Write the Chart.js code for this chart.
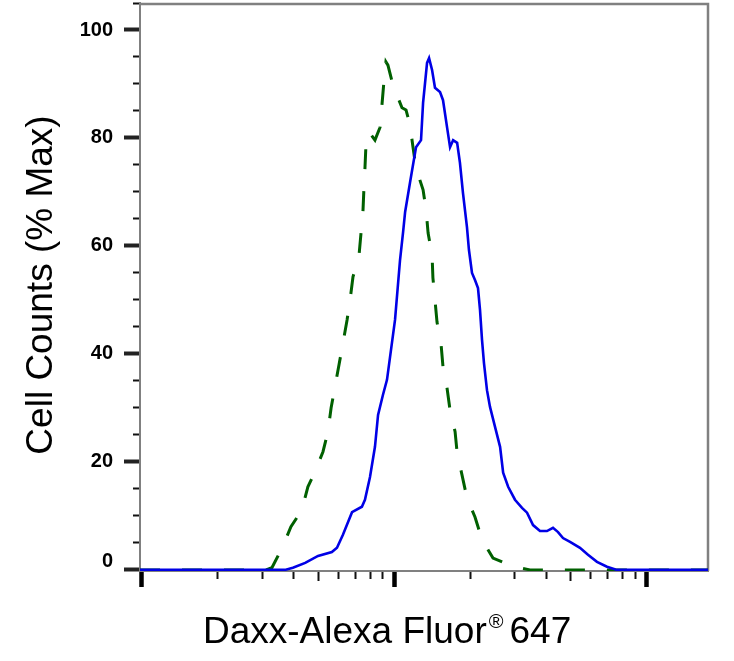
<!DOCTYPE html>
<html>
<head>
<meta charset="utf-8">
<script src="https://cdn.jsdelivr.net/npm/chart.js@4.4.0/dist/chart.umd.min.js"></script>
<style>
  html, body { margin: 0; padding: 0; background: #fff; }
  #wrap { width: 734px; height: 661px; }
</style>
</head>
<body>
<div id="wrap"><canvas id="histChart" width="734" height="661"></canvas></div>
<script>
// stained sample (solid blue)
var stainedX = [98.2, 368, 396, 443, 498, 565, 592, 625, 679, 743, 764, 800, 837, 861, 900, 934,
  1005, 1052, 1082, 1102, 1152, 1217, 1274, 1298, 1346, 1371, 1409, 1447, 1515, 1557, 1615, 1660,
  1707, 1771, 1817, 1868, 1937, 1972, 2028, 2084, 2142, 2182, 2222, 2262, 2325, 2390, 2502, 2620,
  2694, 2820, 3001, 3200, 3350, 3539, 3770, 4017, 4245, 4445, 4650, 4958, 5429, 5840, 6340, 6946,
  7610, 17450];
var stainedY = [0, 0, 0.4, 1.3, 2.6, 3.3, 4.1, 6.5, 10.7, 11.7, 13.0, 17.2, 22.8, 28.7, 32.4, 35.2,
  46.3, 57.4, 62.6, 66.3, 71.7, 78.3, 79.6, 86.5, 93.9, 94.8, 92.6, 89.3, 88.5, 87.0, 82.0, 78.3,
  79.6, 79.1, 75.4, 69.8, 63.5, 59.3, 55.0, 53.7, 52.2, 48.1, 42.6, 38.3, 33.3, 30.2, 26.5, 22.8,
  18.0, 15.4, 13.0, 11.5, 10.6, 8.3, 7.2, 7.2, 7.8, 7.0, 5.9, 5.2, 4.1, 2.8, 1.5, 0.6,
  0, 0];

// isotype control (dashed green)
var controlX = [98.2, 310, 327, 359, 389, 430, 454, 484, 521, 545, 561, 581, 603, 625, 649, 667,
  685, 723, 737, 750, 757, 764, 771, 793, 837, 877, 892, 908, 925, 942, 986, 1071,
  1111, 1152, 1184, 1217, 1298, 1334, 1359, 1409, 1420, 1447, 1474, 1528, 1557, 1615, 1660, 1738,
  1771, 1851, 1937, 2084, 2222, 2456, 2918, 3442, 17450];
var controlY = [0, 0, 0.4, 4.1, 8.0, 11.1, 15.4, 18.1, 21.9, 25.6, 30.0, 33.9, 38.0, 42.0, 46.3, 50.0,
  54.3, 58.0, 62.4, 66.3, 70.7, 74.4, 78.7, 81.1, 79.6, 82.0, 86.1, 90.4, 94.1, 93.5, 89.8, 85.6,
  85.2, 82.4, 78.3, 74.4, 70.4, 66.7, 62.4, 58.3, 54.1, 50.0, 45.9, 42.0, 37.6, 33.7, 29.6, 25.6,
  21.7, 17.6, 13.3, 9.8, 5.6, 2.2, 0.7, 0, 0];

var yTickValues = [0, 20, 40, 60, 80, 100];
var yTickLabels = ['0', '20', '40', '60', '80', '100'];
var yMinorValues = [5, 10, 15, 25, 30, 35, 45, 50, 55, 65, 70, 75, 85, 90, 95, 105];
var xMajorValues = [100, 1000, 10000];
var xMinorValues = [200, 300, 400, 600, 700, 800, 900,
  2000, 3000, 4000, 6000, 7000, 8000, 9000];
var xMidValues = [500, 5000];

var xTitle = ['Daxx-Alexa Fluor', '\u00AE', '647'];
var yTitle = 'Cell Counts (% Max)';

var X_MIN = 98.2, X_MAX = 17450, Y_MIN = -0.2, Y_MAX = 105;

function toPoints(xs, ys) {
  return xs.map(function (x, i) { return { x: x, y: ys[i] }; });
}
function setTicks(values) {
  return function (scale) {
    scale.ticks = values.map(function (v) { return { value: v }; });
  };
}
// the axes must not push the plot area inwards for label overflow
function noPadding(size) {
  return function (s) {
    if (size.width) s.width = size.width;
    if (size.height) s.height = size.height;
    s.paddingTop = 0; s.paddingBottom = 0; s.paddingLeft = 0; s.paddingRight = 0;
  };
}
function tickAxis(type, pos, min, max, values, len, width) {
  return {
    type: type,
    position: pos,
    min: min,
    max: max,
    afterBuildTicks: setTicks(values),
    afterFit: noPadding({}),
    ticks: { display: false },
    border: { display: false },
    grid: { drawOnChartArea: false, drawTicks: true, tickLength: len, tickWidth: width, tickColor: '#111' }
  };
}

var framePlugin = {
  id: 'frame',
  beforeDatasetsDraw: function (chart) {
    var a = chart.chartArea, ctx = chart.ctx;
    ctx.save();
    ctx.strokeStyle = '#808080';
    ctx.lineWidth = 2.5;
    ctx.beginPath();
    ctx.moveTo(a.left, a.top + 1);
    ctx.lineTo(a.right, a.top + 1);
    ctx.lineTo(a.right, a.bottom);
    ctx.stroke();
    ctx.restore();
  }
};

var titlesPlugin = {
  id: 'axisTitles',
  afterDraw: function (chart) {
    var ctx = chart.ctx;
    ctx.save();
    ctx.fillStyle = '#000';
    ctx.textBaseline = 'alphabetic';

    // y title, rotated
    ctx.save();
    ctx.translate(52, 285);
    ctx.rotate(-Math.PI / 2);
    ctx.textAlign = 'center';
    ctx.font = '37px "Liberation Sans", Arial, sans-serif';
    ctx.fillText(yTitle, 0, 0);
    ctx.restore();

    // x title with small superscript mark
    ctx.textAlign = 'left';
    var x = 203, base = 643;
    ctx.font = '37px "Liberation Sans", Arial, sans-serif';
    ctx.fillText(xTitle[0], x, base);
    x += ctx.measureText(xTitle[0]).width + 2;
    ctx.font = '20px "Liberation Sans", Arial, sans-serif';
    ctx.fillText(xTitle[1], x, base - 15);
    x += ctx.measureText(xTitle[1]).width + 6;
    ctx.font = '37px "Liberation Sans", Arial, sans-serif';
    ctx.fillText(xTitle[2], x, base);
    ctx.restore();
  }
};

var ctx = document.getElementById('histChart').getContext('2d');
var chart = new Chart(ctx, {
  type: 'line',
  data: {
    datasets: [
      {
        label: 'Daxx',
        data: toPoints(stainedX, stainedY),
        borderColor: '#0000e6',
        borderWidth: 2.6,
        pointRadius: 0,
        tension: 0,
        fill: false
      },
      {
        label: 'Isotype control',
        data: toPoints(controlX, controlY),
        borderColor: '#006000',
        borderWidth: 3,
        borderDash: [20, 22],
        pointRadius: 0,
        tension: 0,
        fill: false
      }
    ]
  },
  options: {
    responsive: false,
    animation: false,
    events: [],
    layout: { padding: { top: 3, right: 26, left: 0, bottom: 0 } },
    plugins: { legend: { display: false }, tooltip: { enabled: false } },
    scales: {
      x: {
        type: 'logarithmic',
        position: 'bottom',
        min: X_MIN,
        max: X_MAX,
        afterBuildTicks: setTicks(xMajorValues),
        afterFit: noPadding({ height: 90 }),
        ticks: { display: false },
        border: { color: '#808080', width: 2 },
        grid: { drawOnChartArea: false, drawTicks: true, tickLength: 16, tickWidth: 4.5, tickColor: '#000' }
      },
      xMinor: tickAxis('logarithmic', { y: Y_MIN }, X_MIN, X_MAX, xMinorValues, 8, 2),
      xMid: tickAxis('logarithmic', { y: Y_MIN }, X_MIN, X_MAX, xMidValues, 10, 2),
      y: {
        type: 'linear',
        position: 'left',
        min: Y_MIN,
        max: Y_MAX,
        afterBuildTicks: setTicks(yTickValues),
        afterFit: noPadding({ width: 140 }),
        ticks: {
          autoSkip: false,
          padding: 11,
          color: '#000',
          font: { family: '"Liberation Sans Narrow", "Liberation Sans", Arial, sans-serif', size: 20, weight: 'bold', lineHeight: 0.8 },
          callback: function (value) {
            var label = yTickLabels[yTickValues.indexOf(value)];
            return value === 0 ? [label, ''] : label;
          }
        },
        border: { color: '#808080', width: 2 },
        grid: { drawOnChartArea: false, drawTicks: true, tickLength: 16, tickWidth: 4, tickColor: '#222' }
      },
      yMinor: tickAxis('linear', { x: X_MIN }, Y_MIN, Y_MAX, yMinorValues, 7, 2)
    }
  },
  plugins: [framePlugin, titlesPlugin]
});
</script>
</body>
</html>
